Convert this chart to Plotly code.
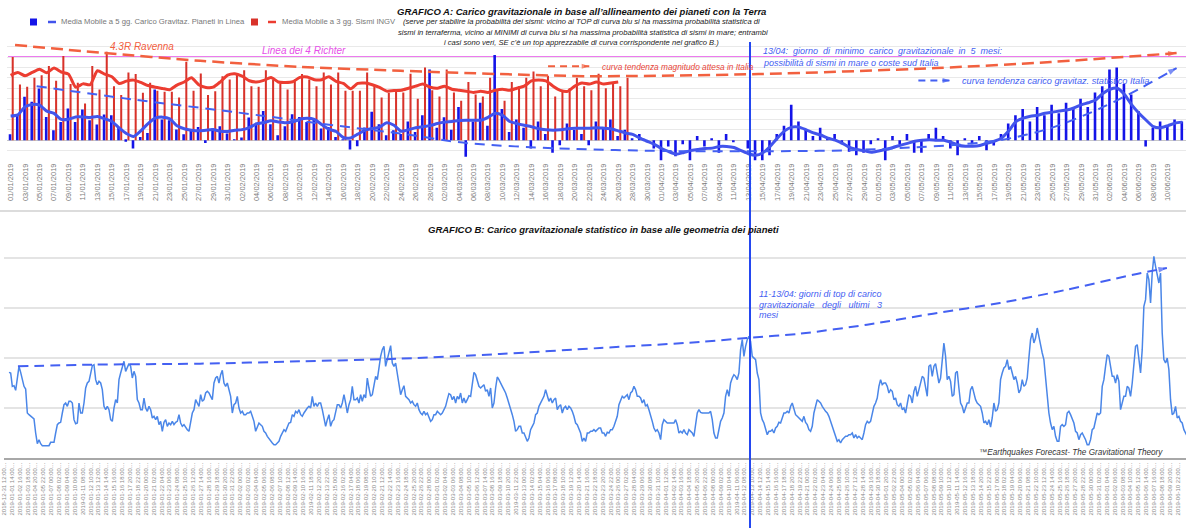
import pandas as pd
import plotly.graph_objects as go

W, H = 1186, 528
DAY = 86400000


def px(x):
    return x / W


def py(y):
    return 1 - y / H


# ---------------- GRAFICO A ----------------
giorni = pd.date_range("2019-01-01", "2019-06-12", freq="D")
etichette_A = [d.strftime("%d/%m/%Y") for d in giorni[::2]]

carico_pianeti = [
    0.29, 1.16, 2.09, 1.85, 2.49, 1.12, 0.48, 0.88, 1.53, 0.88,
    1.48, 0.96, 0.76, 1.24, 1.2, 0.61, -0.08, -0.4, 0.16, 0.35,
    2.44, 1.0, 0.96, 0.51, 0.29, 0.48, 0.64, -0.13, 0.56, 0.67,
    0.32, 0.03, 0.13, 1.09, 0.8, 1.41, 0.77, 0.24, 0.67, 1.25,
    1.12, 0.88, 1.04, 0.56, 0.64, 0.16, 0.02, -0.45, -0.29, 0.61,
    1.37, 0.77, 0.24, 0.48,
    0.3, 0.9, 0.4, 1.2, 3.4, 0.6, 1.1, 0.5, 1.6, -0.8,
    0.9, 1.8, 0.7, 4.1, 1.5, 0.4, 1.0, 0.6, -0.4, 0.9,
    0.3, -0.6, -0.24, 0.8, 0.5, 0.3, -0.24, 0.9, 0.6, 1.0,
    0.2, 0.5, 0.1, 0.3, -0.1, -0.4, -0.96, -0.3, -0.77, -0.2,
    -0.96, 0.2, -0.3, 0.1, -0.6, 0.3, -0.1, 0.0, -0.4, -0.96,
    -0.96, -0.72, 0.3, 0.7, 1.7, 0.9, 0.5, 0.2, 0.6, 0.1,
    0.3, -0.2, -0.56, -0.72, -0.6, -0.2, 0.1, -0.96, 0.2, -0.2,
    0.3, -0.6, -0.6, 0.3, 0.6, 0.2, -0.4, -0.72, 0.1, -0.2,
    0.2, -0.48, -0.25, 0.3, 0.8, 1.2, 1.5, 0.9, 1.6, 1.2,
    1.7, 1.3, 1.8, 1.5, 2.0, 1.6, 2.3, 2.6, 3.4, 3.5,
    2.7, 2.2, 1.4, -0.3, 0.6, 0.9, 0.7, 1.0, 0.9,
]

media_carico_5gg = [
    1.16, 1.22, 1.61, 1.72, 1.69, 1.40, 1.29, 1.0, 1.01, 1.12,
    1.12, 1.09, 1.14, 1.03, 0.9, 0.59, 0.32, 0.18, 0.45, 0.8,
    1.06, 1.11, 1.03, 0.69, 0.55, 0.48, 0.45, 0.48, 0.51, 0.43,
    0.42, 0.48, 0.51, 0.61, 0.79, 0.85, 0.93, 0.88, 0.84, 0.88,
    1.01, 1.06, 1.0, 0.76, 0.53, 0.42, 0.13, 0.11, 0.29, 0.48,
    0.56, 0.63, 0.84, 0.72,
    0.43, 0.5, 0.6, 0.65, 0.7, 0.8, 0.87, 0.9, 0.95, 0.96,
    0.96, 0.96, 1.1, 1.3, 1.2, 0.9, 0.8, 0.72, 0.65, 0.55,
    0.5, 0.48, 0.5, 0.55, 0.58, 0.58, 0.58, 0.6, 0.58, 0.55,
    0.45, 0.35, 0.28, 0.1, -0.05, -0.2, -0.4, -0.55, -0.67, -0.6,
    -0.5, -0.45, -0.4, -0.38, -0.3, -0.3, -0.35, -0.5, -0.65, -0.72,
    -0.6, -0.3, 0.1, 0.45, 0.63, 0.63, 0.5, 0.35, 0.25, 0.1,
    0.0, -0.15, -0.35, -0.45, -0.5, -0.58, -0.52, -0.45, -0.35, -0.24,
    -0.15, -0.05, 0.0, 0.02, 0.0, 0.0, -0.1, -0.24, -0.29, -0.29,
    -0.25, -0.14, -0.05, 0.1, 0.45, 0.9, 1.06, 1.15, 1.2, 1.3,
    1.35, 1.4, 1.45, 1.55, 1.7, 1.8, 1.93, 2.25, 2.45, 2.5,
    2.2, 1.7, 1.3, 0.96, 0.65, 0.6, 0.7, 0.82, 0.87,
]

sismi_ingv = [
    4.0, 2.68, 2.57, 3.0, 3.13, 3.57, 2.86, 4.05, 2.7, 2.76,
    1.77, 3.57, 2.44, 4.26, 2.6, 2.17, 3.26, 3.18, 2.28, 2.76,
    2.38, 2.33, 2.33, 2.06, 3.77, 2.38, 3.21, 2.17, 2.36, 3.08,
    2.92, 3.21, 3.37, 2.6, 2.57, 3.37, 2.89, 2.7, 2.44, 2.92,
    3.18, 2.92, 2.6, 3.26, 2.68, 3.26, 2.38, 2.38, 2.38, 3.26,
    2.6, 2.06, 2.28, 2.33,
    2.3, 3.2, 2.0, 3.5, 2.4, 2.1, 3.4, 2.3, 1.9, 2.8,
    2.2, 2.1, 3.0, 2.4, 1.9, 2.8, 2.6, 3.0, 3.3, 2.6,
    3.1, 2.1, 2.4, 2.5, 3.0, 2.6, 2.4, 3.2, 2.5, 2.8,
    2.6, 3.0,
]

media_sismi_3gg = [
    3.12, 3.26, 3.10, 3.26, 3.41, 3.24, 3.47, 3.28, 3.18, 2.55,
    2.71, 2.67, 3.34, 3.18, 3.05, 2.73, 2.84, 2.89, 2.78, 2.63,
    2.55, 2.49, 2.43, 2.65, 2.80, 3.0, 2.67, 2.54, 2.55, 2.81,
    3.13, 3.20, 3.08, 2.86, 2.80, 2.88, 3.02, 2.80, 2.78, 2.81,
    3.02, 3.04, 2.91, 2.91, 3.05, 2.83, 2.73, 2.47, 2.73, 2.75,
    2.67, 2.54, 2.36, 2.39,
    2.4, 2.5, 2.6, 2.7, 2.55, 2.5, 2.6, 2.45, 2.4, 2.35,
    2.3, 2.35, 2.3, 2.4, 2.45, 2.4, 2.5, 2.6, 2.85, 2.9,
    2.85, 2.6, 2.4, 2.35, 2.6, 2.75, 2.7, 2.8, 2.7, 2.75,
    2.8,
]

soglia_richter = 4.0

# trend curves drawn by the author (day offsets from 01/01/2019, values)
trend_magnitudo_giorni = [0.61, 12.4, 26.2, 40.0, 53.9, 67.7, 80.1, 103.4, 127.9, 143.8, 161.2]
trend_magnitudo_val = [4.58, 4.21, 3.82, 3.53, 3.34, 3.18, 3.08, 3.18, 3.47, 3.76, 4.19]
trend_carico_giorni = [3.6, 16.9, 30.8, 44.6, 53.9, 63.1, 75.6, 90.8, 109.2, 116.1,
                       129.9, 136.8, 143.8, 150.7, 156.2, 161.2]
trend_carico_val = [2.6, 1.96, 1.36, 0.72, 0.32, -0.14, -0.39, -0.52, -0.52, -0.48,
                    -0.24, 0.0, 0.58, 1.54, 2.5, 3.47]
freccia_magnitudo_giorni = [74.3, 80.0]
freccia_magnitudo_val = [3.56, 3.56]
freccia_carico_giorni = [125.5, 129.9]
freccia_carico_val = [2.87, 2.87]

# ---------------- GRAFICO B ----------------
inizio_B = pd.Timestamp("2018-12-31 12:00")
carico_B = [
    257, 255, 215, 217, 203, 245, 275, 257, 235, 215, 207, 135, 130, 125, 120, 117, 75, 43, 55, 43,
    37, 37, 37, 37, 37, 47, 47, 47, 75, 100, 105, 107,
    135, 160, 165, 155, 170, 170, 165, 115, 103, 105, 165, 135, 135, 165, 210, 225, 230, 255,
    277, 280, 235, 220, 230, 225, 205, 155, 145, 155, 145, 115, 110, 150, 175, 165, 235, 255, 275, 290,
    260, 270, 283, 275, 240, 260, 245, 175, 165, 145, 145, 180, 150, 140, 155, 145, 120, 125, 115, 125,
    100, 110, 80, 107, 115, 95, 105, 100, 110, 100, 107, 110, 130, 105, 95, 100, 90, 85, 80, 110,
    135, 145, 175, 165, 155, 190, 170, 175, 195, 200, 195, 185, 175, 225, 240, 245, 225, 250, 263, 225,
    215, 225, 200, 185, 135, 160, 165, 185, 150, 135, 140, 130, 130, 135, 135, 140, 125, 110, 80, 95,
    105, 100, 95, 80, 75, 65, 57, 50, 45, 40, 40, 45, 50, 65, 73, 85, 80, 95, 105, 107,
    130, 125, 140, 135, 145, 130, 125, 135, 145, 150, 155, 150, 185, 155, 165, 155, 165, 165, 145, 115,
    95, 115, 130, 95, 110, 115, 135, 160, 160, 150, 165, 190, 165, 135, 160, 175, 215, 175, 175, 180,
    165, 190, 170, 190, 180, 240, 210, 185, 190, 215, 245, 235, 275, 305, 325, 335, 275, 295, 315, 337,
    285, 275, 285, 255, 215,
    190, 205, 217, 185, 180, 175, 165, 170, 160, 155, 165, 145, 135, 130, 140, 130, 135, 120, 110, 115,
    130, 130, 140, 135, 130, 135, 145, 155, 175, 193, 190, 175, 185, 165, 185, 177, 195, 165, 180, 165,
    175, 187, 185, 225, 257, 250, 230, 215, 210, 215, 220, 200, 205, 185, 210, 150, 165, 210, 243, 235,
    227, 215, 205, 195, 180, 165, 150, 130, 110, 80, 85, 95, 95, 75, 75, 60, 50, 60, 85, 95,
    105, 130, 135, 155, 165, 180, 185, 205, 185, 170, 180, 165, 175, 180, 145, 155, 160, 135, 150, 155,
    145, 155, 150, 140, 125, 105, 100, 85, 75, 50, 60, 50, 75, 75, 80, 80, 85, 80, 85, 90,
    90, 75, 75, 65, 77, 75, 85, 85, 95, 110, 125, 160, 175, 185, 180, 185, 190, 175, 195, 200,
    215, 205, 185, 185, 180, 165, 175, 155, 160, 145, 130, 110, 90, 80, 85, 75, 55, 100, 115, 110,
    105, 105, 105, 105, 105, 115, 100, 75, 80, 75, 85, 75, 70, 85, 80, 75, 65, 95, 135, 145,
    137, 135, 135, 135, 135, 135, 140, 115, 75, 60, 60, 85, 110, 120, 135, 185, 205, 185, 225, 240,
    250, 245, 235, 255, 325, 355, 305, 335, 355, 365, 350, 305, 300, 295, 255, 235, 135, 115, 105, 85,
    70, 80, 80, 85, 75, 90, 95, 107, 105, 120, 135, 135, 140, 135, 155, 165, 145, 130, 125, 120,
    115, 110, 125, 107, 100, 85, 80, 95, 135, 155, 175, 170, 165, 155, 145, 140, 135, 125, 110, 95,
    75, 60, 50, 55, 45, 55, 60, 65, 65, 70, 70, 75, 60, 70, 60, 65, 60, 55, 75, 100,
    110, 105, 110, 130, 155, 165, 180, 215, 235, 220, 225, 225, 215, 195, 205, 200, 175, 180, 160, 155,
    165, 145, 150, 135, 165, 190, 185, 165, 200, 215, 185, 205, 225, 245, 240, 205, 185, 275, 280, 245,
    275, 283, 255, 225, 240, 295, 345, 305, 235, 245, 230, 185, 190, 255, 260, 210, 165, 155, 135, 150,
    165, 165, 205, 215, 195, 175, 165, 160, 155, 135, 105, 110, 100, 115, 93, 120, 165, 140, 145, 165,
    235, 255, 270, 275, 295, 265, 275, 255, 235, 245, 225, 195, 205, 235, 215, 220, 240, 300, 355, 375,
    345, 360, 390, 365, 335, 315, 295, 235, 175, 135, 105, 85, 95, 65, 50, 50, 95, 100, 95, 100,
    135, 140, 130, 115, 105, 80, 75, 55, 70, 75, 65, 55, 40, 40, 55, 85, 90, 115, 135, 130,
    135, 215, 235, 275, 310, 305, 275, 245, 245, 225, 250, 230, 145, 165, 185, 185, 215, 210, 185, 225,
    285, 335, 340, 305, 255, 325, 455, 475, 555, 535, 465, 555, 605, 575, 545, 525, 555, 375, 295, 285,
    300, 265, 175, 130, 135, 155, 120, 125, 110, 105, 85, 75, 65,
]
tempi_B = pd.date_range("2019-01-01 04:30", periods=len(carico_B), freq="330min")
tick_B = pd.date_range(inizio_B, "2019-06-10 22:00", freq="26h")
etichette_B = [t.strftime("%Y-%m-%d %H:%M") + "\u2026" for t in tick_B]

# author trend line on chart B (hours from first timestamp, value)
trend_B_ore = [46, 294, 647, 977, 1307, 1637, 1967, 2297, 2452, 2627, 2848, 3066, 3287, 3508, 3726, 3838]
trend_B_val = [275, 280, 283, 290, 298, 312, 330, 348, 360, 373, 400, 433, 465, 505, 550, 570]

# ---------------- figure ----------------
BLU_BAR = "#1414e8"
BLU_LINE = "#4254ec"
BLU_TXT = "#4460f2"
ROSSO_BAR = "#d8322a"
ROSSO_LINE = "#ec3d31"
ARANCIO = "#f2603f"
ROSA = "#e64fe8"
FONT = "Liberation Sans, Arial, sans-serif"

fig = go.Figure()

fig.add_trace(go.Bar(x=giorni, y=carico_pianeti, marker_color=BLU_BAR, marker_line_width=0,
                     width=0.36 * DAY, offset=-0.26 * DAY, xaxis="x", yaxis="y"))
fig.add_trace(go.Bar(x=giorni[:len(sismi_ingv)], y=sismi_ingv, marker_color=ROSSO_BAR,
                     marker_line_width=0, width=0.28 * DAY, offset=0.15 * DAY, xaxis="x", yaxis="y"))
fig.add_trace(go.Scatter(x=giorni, y=media_carico_5gg, mode="lines",
                         line=dict(color=BLU_LINE, width=3, shape="spline", smoothing=0.6),
                         xaxis="x", yaxis="y"))
fig.add_trace(go.Scatter(x=giorni[:len(media_sismi_3gg)], y=media_sismi_3gg, mode="lines",
                         line=dict(color=ROSSO_LINE, width=3, shape="spline", smoothing=0.6),
                         xaxis="x", yaxis="y"))


def freccia(giorni_off, valori, colore, dash, width=2.5, size=9, axis=("x", "y"), base=giorni[0], unit="D"):
    xs = [base + pd.to_timedelta(g, unit=unit) for g in giorni_off]
    n = len(xs)
    return go.Scatter(x=xs, y=valori, mode="lines+markers",
                      line=dict(color=colore, width=width, dash=dash, shape="spline", smoothing=0.8),
                      marker=dict(symbol="arrow", angleref="previous", size=[0] * (n - 1) + [size],
                                  color=colore, line_width=0),
                      xaxis=axis[0], yaxis=axis[1])


fig.add_trace(freccia(trend_magnitudo_giorni, trend_magnitudo_val, ARANCIO, "12px,6px"))
fig.add_trace(freccia(trend_carico_giorni, trend_carico_val, BLU_TXT, "10px,7px", width=2))
fig.add_trace(freccia(freccia_magnitudo_giorni, freccia_magnitudo_val, ARANCIO, "7px,5px", width=2, size=8))
fig.add_trace(freccia(freccia_carico_giorni, freccia_carico_val, BLU_TXT, "7px,5px", width=2, size=8))

fig.add_trace(go.Scatter(x=tempi_B, y=carico_B, mode="lines",
                         line=dict(color="#4a86e8", width=1.5), xaxis="x2", yaxis="y2"))
fig.add_trace(freccia(trend_B_ore, trend_B_val, BLU_TXT, "10px,6px", width=2, size=9,
                      axis=("x2", "y2"), base=inizio_B, unit="h"))

fig.update_layout(
    width=W, height=H, margin=dict(l=0, r=0, t=0, b=0, pad=0, autoexpand=False),
    paper_bgcolor="white", plot_bgcolor="white", showlegend=False, barmode="overlay",
    font=dict(family=FONT),
    xaxis=dict(domain=[px(7), 1], type="date", automargin=False,
               range=[giorni[0] - pd.Timedelta(hours=12), giorni[-1] + pd.Timedelta(hours=12)],
               tickvals=list(giorni[::2]), ticktext=etichette_A, tickangle=-90,
               tickfont=dict(size=7.5, color="#7a7a7a"), showgrid=False, ticks="",
               showline=False, zeroline=False, anchor="y"),
    yaxis=dict(domain=[py(161), py(36.25)], range=[-1, 5], dtick=0.5, tick0=0, automargin=False,
               showticklabels=False, gridcolor="#e9e9e9", gridwidth=1,
               zeroline=True, zerolinecolor="#c8c8c8", zerolinewidth=1, anchor="x"),
    xaxis2=dict(domain=[px(4), 1], type="date", automargin=False,
                range=[inizio_B, inizio_B + pd.Timedelta(hours=3901)],
                tickvals=list(tick_B), ticktext=etichette_B, tickangle=-90,
                tickfont=dict(size=6, color="#8a8a8a"), showgrid=False, ticks="",
                showline=True, linecolor="#a8a8a8", linewidth=1.5, zeroline=False, anchor="y2"),
    yaxis2=dict(domain=[py(458), py(241)], range=[0, 651], dtick=150, tick0=0, automargin=False,
                showticklabels=False, gridcolor="#e4e4e4", gridwidth=1.5,
                zeroline=False, anchor="x2"),
)

shapes = [
    dict(type="line", xref="paper", yref="y", x0=px(8), x1=1, y0=soglia_richter, y1=soglia_richter,
         line=dict(color=ROSA, width=1.5), layer="between"),
    dict(type="line", xref="paper", yref="paper", x0=0, x1=1, y0=py(211), y1=py(211),
         line=dict(color="#dcdcdc", width=2)),
    dict(type="line", xref="paper", yref="paper", x0=px(750), x1=px(750), y0=py(42), y1=0,
         line=dict(color="#2448f0", width=2)),
    # legend symbols
    dict(type="rect", xref="paper", yref="paper", x0=px(30), x1=px(37), y0=py(25.5), y1=py(18.5),
         fillcolor=BLU_BAR, line_width=0),
    dict(type="line", xref="paper", yref="paper", x0=px(48), x1=px(56), y0=py(22), y1=py(22),
         line=dict(color=BLU_LINE, width=2.5)),
    dict(type="rect", xref="paper", yref="paper", x0=px(251), x1=px(258), y0=py(25.5), y1=py(18.5),
         fillcolor=ROSSO_BAR, line_width=0),
    dict(type="line", xref="paper", yref="paper", x0=px(268), x1=px(276), y0=py(22), y1=py(22),
         line=dict(color=ROSSO_LINE, width=2.5)),
]


def testo(x, y, s, size, color, anchor="left"):
    return dict(xref="paper", yref="paper", x=px(x), y=py(y), text=s, showarrow=False,
                xanchor=anchor, yanchor="middle", font=dict(size=size, color=color, family=FONT))


NB = "\u00a0"
annotations = [
    testo(59, 22, "Media Mobile a 5 gg. Carico Gravitaz. Pianeti in Linea", 7.7, "#777777"),
    testo(280, 22, "Media Mobile a 3 gg. Sismi INGV", 7.7, "#777777"),
    testo(581, 11, "<b><i>GRAFICO A: Carico gravitazionale in base all’allineamento dei pianeti con la Terra</i></b>",
          9.5, "#111111", "center"),
    testo(581, 21.5, "<i>(serve per stabilire la probabilità dei sismi: vicino ai TOP di curva blu si ha massima probabilità statistica di</i>",
          7.6, "#222222", "center"),
    testo(583, 32.5, "<i>sismi in terraferma, vicino ai MINIMI di curva blu si ha massima probabilità statistica di sismi in mare; entrambi</i>",
          7.6, "#222222", "center"),
    testo(581, 43, "<i>i casi sono veri, SE c’è un top apprezzabile di curva corrispondente nel grafico B.)</i>",
          7.6, "#222222", "center"),
    testo(108, 46, "<i>4.3R Ravenna</i>", 10, ARANCIO),
    testo(260, 50.5, "<i>Linea dei 4 Richter</i>", 10, ROSA),
    testo(600, 66.5, "<i>curva tendenza magnitudo attesa in Italia</i>", 8.3, "#e8463a"),
    testo(761, 51, "<i>13/04:" + NB + " giorno" + NB + " di" + NB + " minimo" + NB + " carico" + NB +
          " gravitazionale" + NB + " in" + NB + " 5" + NB + " mesi:</i>", 9, BLU_TXT),
    testo(761, 63, "<i>possibilità di sismi in mare o coste sud Italia</i>", 9, BLU_TXT),
    testo(960, 80.5, "<i>curva tendenza carico gravitaz. statistico Italia</i>", 9.2, BLU_TXT),
    testo(604, 230, "<b><i>GRAFICO B: Carico gravitazionale statistico in base alle geometria dei pianeti</i></b>",
          9.5, "#111111", "center"),
    testo(757, 294, "<i>11-13/04: giorni di top di carico</i>", 9, BLU_TXT),
    testo(757, 304.5, "<i>gravitazionale" + NB + NB + " degli" + NB + NB + " ultimi" + NB + NB + " 3</i>", 9, BLU_TXT),
    testo(757, 315, "<i>mesi</i>", 9, BLU_TXT),
    testo(977, 452, "<i>™Earthquakes Forecast- The Gravitational Theory</i>", 8.2, "#333333"),
]

fig.update_layout(shapes=shapes, annotations=annotations)
fig.write_html("out.html", config={"displayModeBar": False},
               post_script="document.body.style.margin='0';document.body.style.overflow='hidden';")
